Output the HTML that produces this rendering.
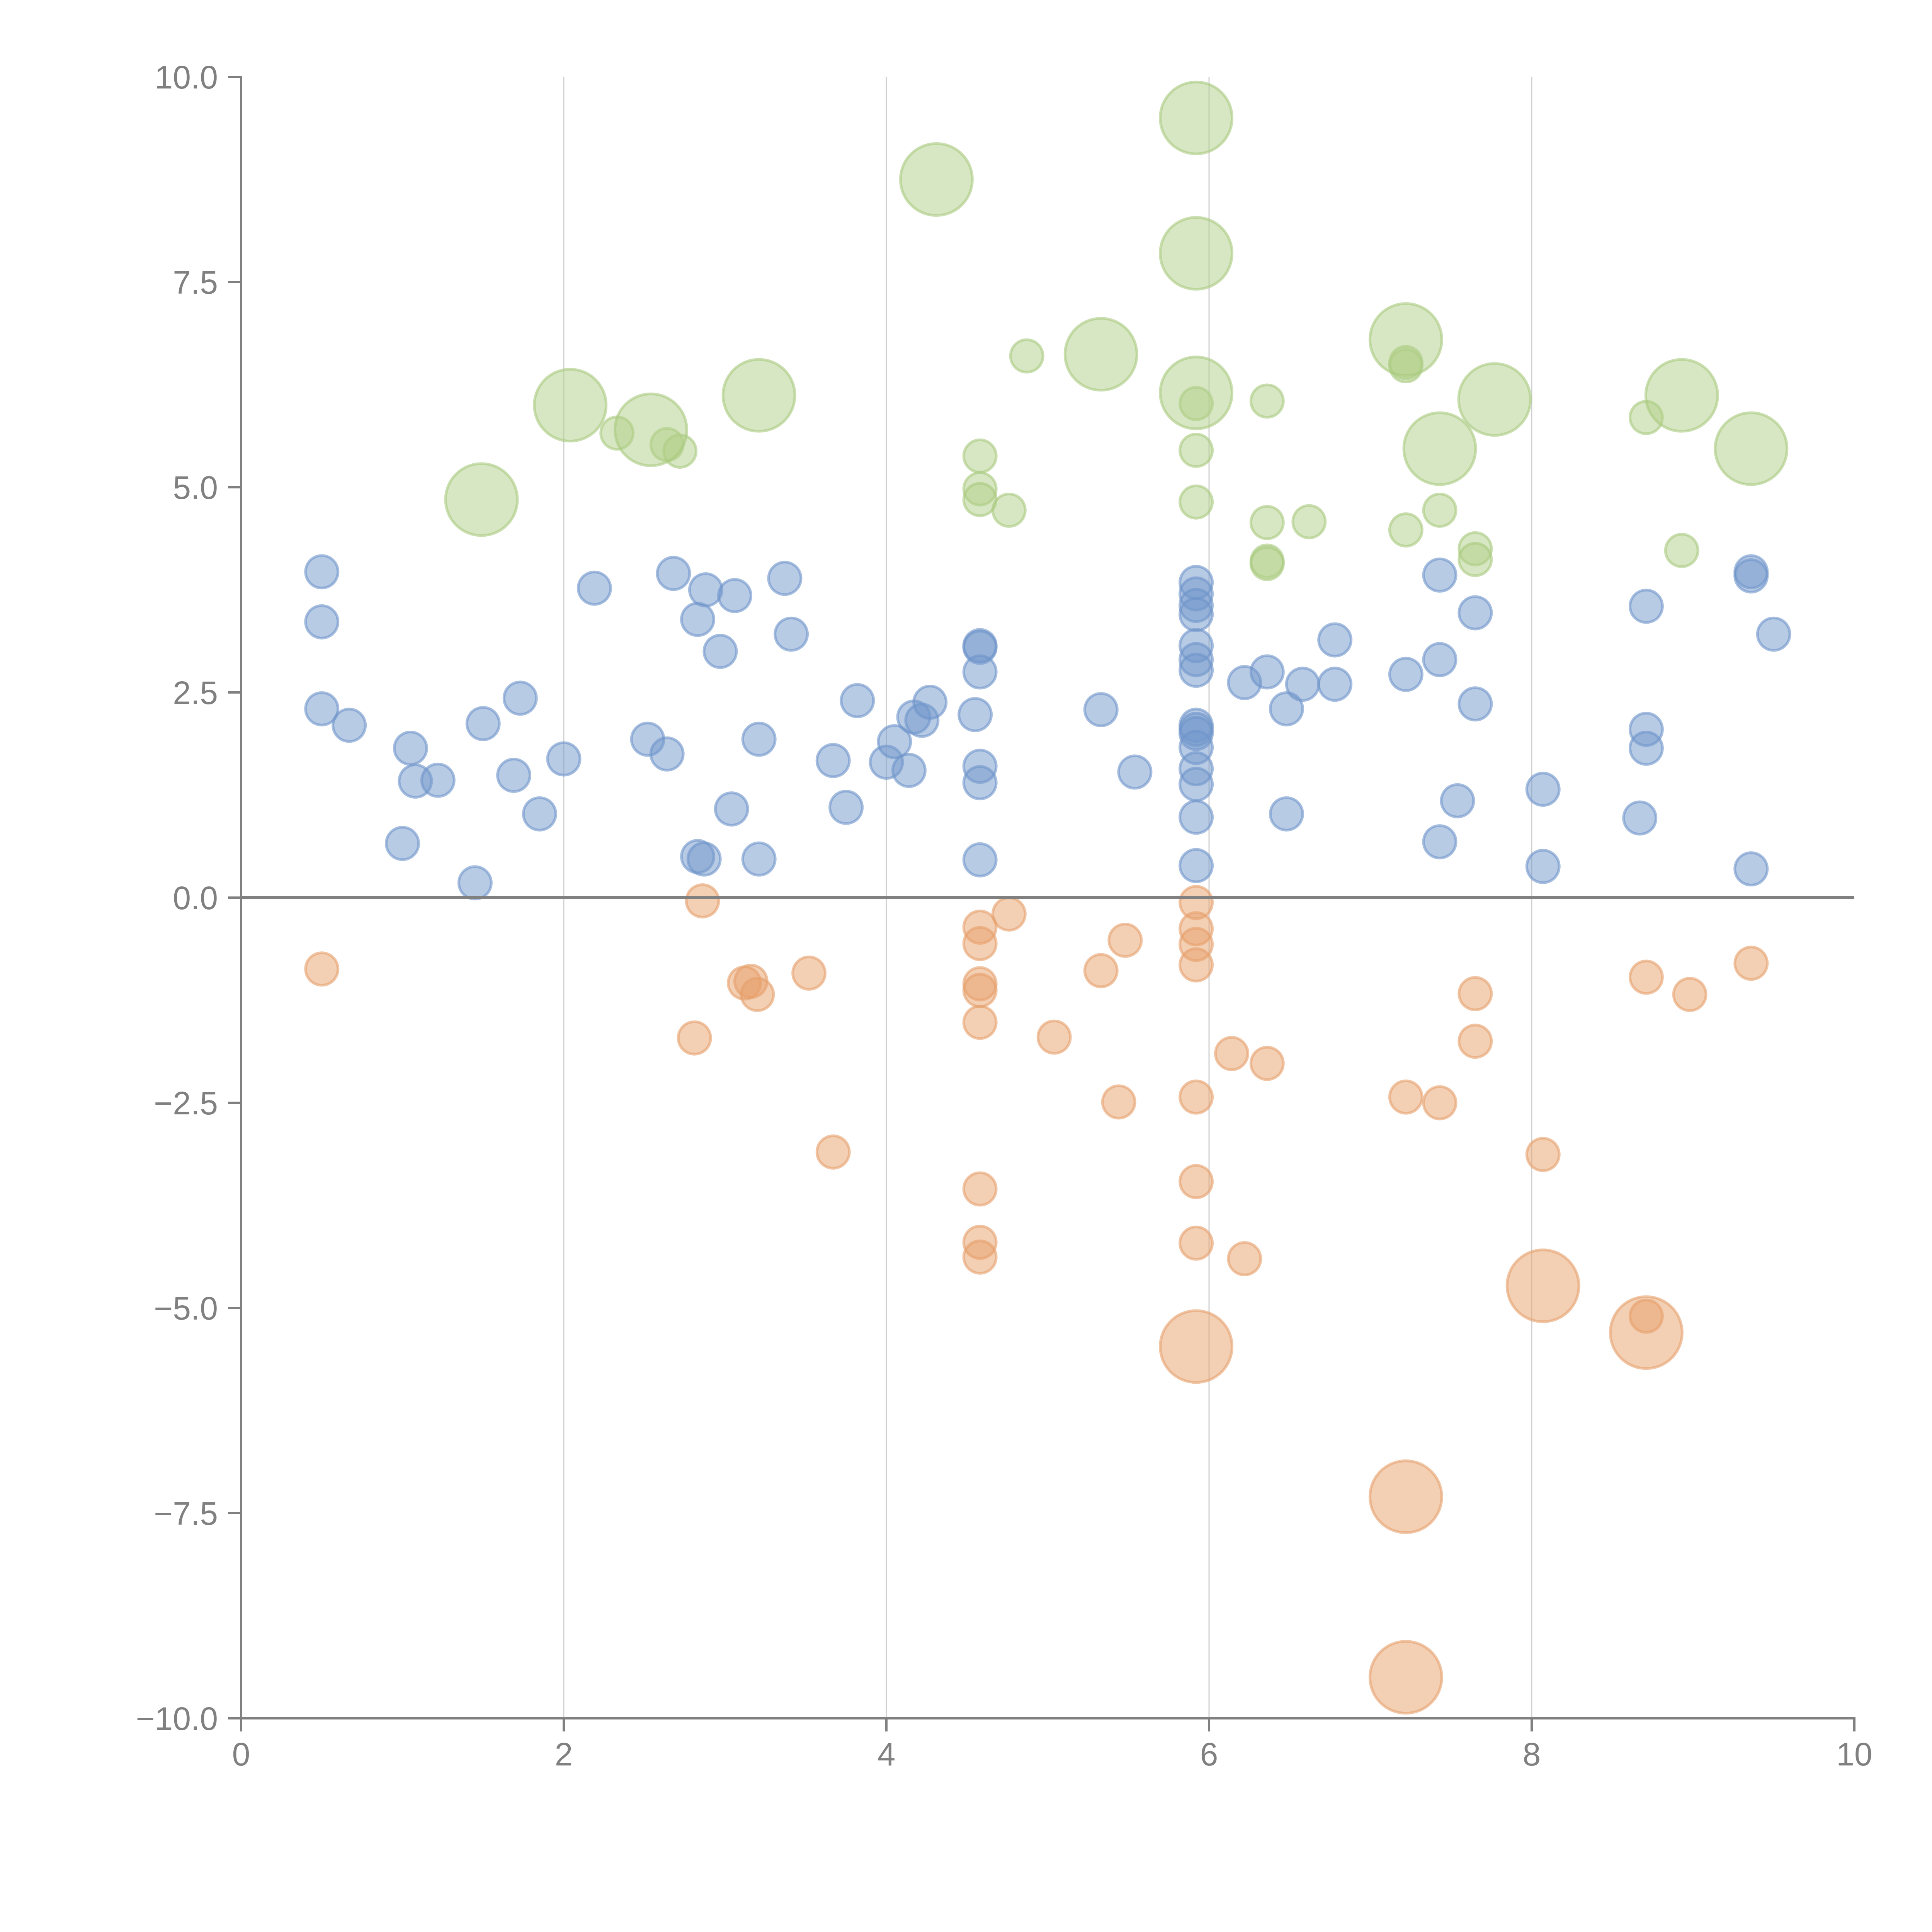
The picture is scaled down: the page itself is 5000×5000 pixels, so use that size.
<!DOCTYPE html>
<html><head><meta charset="utf-8"><style>
html,body{margin:0;padding:0;background:#fff;}
svg{display:block;font-family:"Liberation Sans",Arial,sans-serif;}
</style></head><body>
<svg id="chart" width="5000" height="5000" viewBox="0 0 5000 5000">
<g id="grid"></g>
<g id="marks"></g>
<g id="axes"></g>
</svg>
<script>
const xTicks = [0, 2, 4, 6, 8, 10];
const yTicks = [10, 7.5, 5, 2.5, 0, -2.5, -5, -7.5, -10];
const yTickLabels = ["10.0", "7.5", "5.0", "2.5", "0.0", "\u22122.5", "\u22125.0", "\u22127.5", "\u221210.0"];
const blueX = [0.5,0.5,0.5,0.67,1.05,1.08,1.22,1.0,1.45,1.5,1.73,1.69,1.85,2.0,2.19,2.52,2.64,2.68,2.83,2.88,2.97,3.06,3.37,3.41,3.21,3.04,2.83,2.87,3.21,3.67,3.75,3.82,4.0,4.05,4.14,4.17,4.22,4.27,4.55,4.58,4.58,4.58,4.58,4.58,4.58,5.33,5.54,5.92,5.92,5.92,5.92,5.92,5.92,5.92,5.92,5.92,5.92,5.92,5.92,5.92,5.92,5.92,6.22,6.36,6.48,6.58,6.48,6.78,6.78,7.22,7.43,7.43,7.43,7.54,7.65,7.65,8.07,8.07,8.67,8.71,8.71,8.71,9.36,9.36,9.5,9.36];
const blueY = [3.97,3.36,2.3,2.1,1.82,1.42,1.43,0.66,0.18,2.12,2.43,1.49,1.02,1.69,3.77,1.93,1.75,3.95,3.39,3.75,3.0,3.68,3.89,3.21,1.93,1.08,0.5,0.47,0.47,1.67,1.1,2.4,1.65,1.9,1.55,2.2,2.16,2.38,2.23,3.07,3.05,2.75,1.6,1.4,0.46,2.29,1.53,3.84,3.7,3.56,3.45,3.07,2.9,2.77,2.1,2.05,2.0,1.83,1.57,1.38,0.98,0.39,2.62,2.75,2.3,2.6,1.02,3.14,2.6,2.72,3.93,2.9,0.68,1.18,3.47,2.36,1.32,0.38,0.97,3.55,2.05,1.82,3.97,3.92,3.21,0.35];
const orangeX = [0.5,2.86,2.81,3.12,3.16,3.2,3.52,3.67,4.58,4.58,4.76,4.58,4.58,4.58,4.58,4.58,4.58,5.04,5.33,5.48,5.44,5.92,5.92,5.92,5.92,5.92,5.92,5.92,6.14,6.22,6.36,7.22,7.43,7.65,7.65,8.07,8.71,8.71,8.98,9.36,5.92,8.07,8.71,7.22,7.22];
const orangeY = [-0.87,-0.04,-1.71,-1.04,-1.02,-1.18,-0.92,-3.1,-0.36,-0.56,-0.2,-1.05,-1.13,-1.52,-3.55,-4.2,-4.38,-1.7,-0.89,-0.52,-2.49,-0.06,-0.38,-0.57,-0.82,-2.43,-3.46,-4.21,-1.9,-4.4,-2.02,-2.43,-2.5,-1.17,-1.75,-3.13,-0.97,-5.1,-1.18,-0.8,-5.47,-4.73,-5.3,-7.3,-9.5];
const orangeSize = [1,1,1,1,1,1,1,1,1,1,1,1,1,1,1,1,1,1,1,1,1,1,1,1,1,1,1,1,1,1,1,1,1,1,1,1,1,1,1,1,2,2,2,2,2];
const greenX = [2.33,2.64,2.72,4.58,4.58,4.58,4.76,4.87,5.92,5.92,5.92,6.36,6.36,6.36,6.36,6.62,7.22,7.22,7.22,7.43,7.65,7.65,8.71,8.93,1.49,2.04,2.54,3.21,4.31,5.33,5.92,5.92,5.92,7.22,7.43,7.77,8.93,9.36];
const greenY = [5.66,5.52,5.44,5.38,4.98,4.85,4.72,6.6,6.02,5.45,4.82,6.05,4.57,4.1,4.07,4.58,6.52,6.48,4.48,4.72,4.25,4.12,5.85,4.23,4.85,6.0,5.7,6.12,8.75,6.62,9.5,7.85,6.15,6.8,5.47,6.07,6.12,5.47];
const greenSize = [1,1,1,1,1,1,1,1,1,1,1,1,1,1,1,1,1,1,1,1,1,1,1,1,2,2,2,2,2,2,2,2,2,2,2,2,2,2];

const X0 = 624, X1 = 4799, Y0 = 4447, Y1 = 199;
const xs = v => X0 + (v - 0) / 10 * (X1 - X0);
const ys = v => Y0 - (v + 10) / 20 * (Y0 - Y1);
const NS = "http://www.w3.org/2000/svg";
const mk = (tag, attrs, parent) => { const e = document.createElementNS(NS, tag); for (const k in attrs) e.setAttribute(k, attrs[k]); parent.appendChild(e); return e; };
const grid = document.getElementById('grid'), marks = document.getElementById('marks'), axes = document.getElementById('axes');

[2,4,6,8].forEach(v => {
  const l = mk('line', {x1: xs(v), x2: xs(v), y1: Y1, y2: Y0, stroke: '#d0d0d0', 'stroke-width': 3}, grid);
  
  
});

function series(xa, ya, sa, fill, stroke, name) {
  const g = mk('g', {}, marks);
  
  
  xa.forEach((x, i) => {
    const r = (sa && sa[i] === 2) ? 93 : 42;
    const c = mk('circle', {cx: xs(x), cy: ys(ya[i]), r: r, fill: fill, 'fill-opacity': 0.5, stroke: stroke, 'stroke-opacity': 0.6, 'stroke-width': 7}, g);
    
    
  });
}
series(blueX, blueY, null, '#7297cc', '#6e94ca', 'blue');
series(orangeX, orangeY, orangeSize, '#e8a06a', '#e6a06c', 'orange');
series(greenX, greenY, greenSize, '#b2cf88', '#a9c97e', 'green');

const z = mk('line', {x1: X0, x2: X1, y1: ys(0), y2: ys(0), stroke: '#808080', 'stroke-width': 8}, axes);


const ya = mk('line', {x1: X0, x2: X0, y1: Y1 - 3, y2: Y0 + 3, stroke: '#808080', 'stroke-width': 6}, axes);


const xa = mk('line', {x1: X0 - 3, x2: X1 + 3, y1: Y0, y2: Y0, stroke: '#808080', 'stroke-width': 6}, axes);



yTicks.forEach((v, i) => {
  const t = mk('line', {x1: X0 - 34, x2: X0, y1: ys(v), y2: ys(v), stroke: '#808080', 'stroke-width': 6}, axes);
  
  
  const tx = mk('text', {x: X0 - 60, y: ys(v) + 30, 'text-anchor': 'end', 'font-size': 84, fill: '#808080'}, axes);
  tx.textContent = yTickLabels[i];
  
  
});
xTicks.forEach(v => {
  const t = mk('line', {x1: xs(v), x2: xs(v), y1: Y0, y2: Y0 + 34, stroke: '#808080', 'stroke-width': 6}, axes);
  
  
  const tx = mk('text', {x: xs(v), y: Y0 + 122, 'text-anchor': 'middle', 'font-size': 84, fill: '#808080'}, axes);
  tx.textContent = String(v);
  
  
});
</script>
</body></html>
